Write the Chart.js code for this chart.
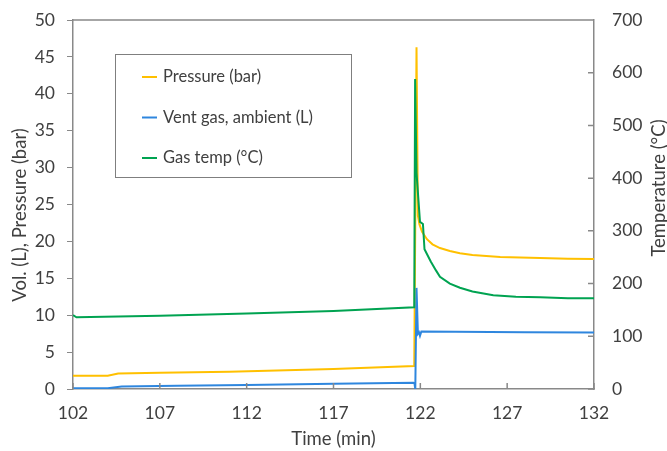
<!DOCTYPE html>
<html>
<head>
<meta charset="utf-8">
<script src="https://cdn.jsdelivr.net/npm/chart.js@4.4.1/dist/chart.umd.min.js"></script>
<style>
  html, body { margin: 0; padding: 0; background: #fff; }
  #wrap { width: 667px; height: 451px; }
</style>
</head>
<body>
<div id="wrap"><canvas id="ventChart"></canvas></div>
<script>
// values
const pressureTime = [102, 104, 104.6, 107, 111, 117, 121.65, 121.78, 121.86, 121.95, 122.1, 122.38, 122.7, 123.13, 123.7, 124.28, 125, 126.6, 128.9, 130.5, 132];
const pressureBar  = [1.8, 1.8, 2.1, 2.2, 2.35, 2.7, 3.1, 46.3, 23.5, 22.3, 21.3, 20.3, 19.6, 19.1, 18.7, 18.4, 18.15, 17.9, 17.75, 17.65, 17.6];

const ventTime = [102, 104, 104.8, 108, 112, 117, 121.6, 121.66, 121.71, 121.78, 121.86, 121.92, 121.98, 122.06, 124, 128, 132];
const ventVol  = [0.1, 0.1, 0.35, 0.45, 0.55, 0.7, 0.85, 0.75, 0, 13.7, 7.5, 7.7, 7.2, 7.8, 7.75, 7.7, 7.65];

const tempTime = [102, 102.2, 107, 112, 117, 121.65, 121.7, 121.78, 121.98, 122.15, 122.24, 122.38, 122.6, 122.9, 123.13, 123.7, 124.28, 125, 126.2, 127.5, 128.9, 130.5, 132];
const tempC    = [140, 136, 139, 143, 148, 155, 588, 410, 317, 313, 265, 256, 242, 225, 213, 200, 192, 185, 178, 175, 174, 172, 172];

const seriesLabels = ["Pressure (bar)", "Vent gas, ambient (L)", "Gas temp (°C)"];
const seriesColors = ["#FFC000", "#2E86DE", "#00A351"];

const xTitle = "Time (min)";
const yLeftTitle = "Vol. (L), Pressure (bar)";
const yRightTitle = "Temperature (°C)";

function toPoints(xs, ys) {
    return xs.map((x, i) => ({ x: x, y: ys[i] }));
}

const axisGray = "#898989";
const textGray = "#404040";
const fontFamily = "Lato, 'Open Sans', sans-serif";
const tickFont = { family: fontFamily, size: 17.5 };
const titleSize = 18.5;

// frame top, inside tick marks, vertical axis titles and the boxed legend
const chartDecor = {
    id: "chartDecor",
    afterDraw(chart) {
        const ctx = chart.ctx;
        const area = chart.chartArea;
        ctx.save();
        ctx.strokeStyle = axisGray;
        ctx.lineWidth = 1.5;
        ctx.beginPath();
        ctx.moveTo(area.left, area.top);
        ctx.lineTo(area.right, area.top);
        // x ticks point up into the plot
        chart.scales.x.ticks.forEach((t) => {
            const px = chart.scales.x.getPixelForValue(t.value);
            ctx.moveTo(px, area.bottom);
            ctx.lineTo(px, area.bottom - 6);
        });
        // right axis ticks point left into the plot
        chart.scales.y2.ticks.forEach((t) => {
            const py = chart.scales.y2.getPixelForValue(t.value);
            ctx.moveTo(area.right, py);
            ctx.lineTo(area.right - 6, py);
        });
        ctx.stroke();

        // vertical titles, both reading bottom to top
        ctx.fillStyle = textGray;
        ctx.font = titleSize + "px " + fontFamily;
        ctx.textAlign = "center";
        ctx.textBaseline = "middle";
        ctx.save();
        ctx.translate(20, area.top + 195);
        ctx.rotate(-Math.PI / 2);
        ctx.fillText(yLeftTitle, 0, 0);
        ctx.restore();
        ctx.save();
        ctx.translate(chart.width - 8, area.top + 168);
        ctx.rotate(-Math.PI / 2);
        ctx.fillText(yRightTitle, 0, 0);
        ctx.restore();

        // legend box
        const left = area.left + 42, top = area.top + 34;
        ctx.fillStyle = "#fff";
        ctx.fillRect(left, top, 236, 123);
        ctx.strokeStyle = "#7f7f7f";
        ctx.lineWidth = 1;
        ctx.strokeRect(left + 0.5, top + 0.5, 236, 123);
        ctx.font = "16.5px " + fontFamily;
        ctx.textAlign = "left";
        chart.data.datasets.forEach((ds, i) => {
            const y = top + 23 + i * 40.5;
            ctx.strokeStyle = ds.borderColor;
            ctx.lineWidth = 2;
            ctx.beginPath();
            ctx.moveTo(left + 27, y);
            ctx.lineTo(left + 42, y);
            ctx.stroke();
            ctx.fillStyle = textGray;
            ctx.fillText(ds.label, left + 48, y);
        });
        ctx.restore();
    }
};

// fixed axis boxes so the plot area sits where the original's does
function fixWidth(scale) {
    scale.width = 73;
    scale.paddingTop = 0;
    scale.paddingBottom = 0;
}

const ctx = document.getElementById("ventChart").getContext("2d");
new Chart(ctx, {
    type: "line",
    data: {
        datasets: [
            {
                label: seriesLabels[0],
                data: toPoints(pressureTime, pressureBar),
                borderColor: seriesColors[0],
                yAxisID: "y",
                order: 3,
            },
            {
                label: seriesLabels[1],
                data: toPoints(ventTime, ventVol),
                borderColor: seriesColors[1],
                yAxisID: "y",
                order: 2,
            },
            {
                label: seriesLabels[2],
                data: toPoints(tempTime, tempC),
                borderColor: seriesColors[2],
                yAxisID: "y2",
                order: 1,
            },
        ],
    },
    options: {
        responsive: true,
        maintainAspectRatio: false,
        animation: false,
        layout: { padding: { top: 20, bottom: 0, left: 0, right: 0 } },
        elements: {
            point: { radius: 0 },
            line: { borderWidth: 2, tension: 0 },
        },
        plugins: {
            legend: { display: false },
            tooltip: { enabled: false },
        },
        scales: {
            x: {
                type: "linear",
                min: 102,
                max: 132,
                ticks: { stepSize: 5, color: textGray, font: tickFont, padding: 14 },
                grid: { drawOnChartArea: false, drawTicks: false },
                border: { color: axisGray, width: 1.5 },
                title: { display: true, text: xTitle, color: textGray, font: { family: fontFamily, size: titleSize }, padding: { top: 0, bottom: 1 } },
                afterFit(scale) {
                    scale.height = 62;
                    scale.paddingLeft = 0;
                    scale.paddingRight = 0;
                },
            },
            y: {
                position: "left",
                min: 0,
                max: 50,
                ticks: { stepSize: 5, color: textGray, font: tickFont, padding: 12 },
                grid: { drawOnChartArea: false, color: axisGray, tickLength: 6 },
                border: { color: axisGray, width: 1.5 },
                afterFit: fixWidth,
            },
            y2: {
                position: "right",
                min: 0,
                max: 700,
                ticks: { stepSize: 100, color: textGray, font: tickFont, padding: 18 },
                grid: { drawOnChartArea: false, drawTicks: false },
                border: { color: axisGray, width: 1.5 },
                afterFit: fixWidth,
            },
        },
    },
    plugins: [chartDecor],
});
</script>
</body>
</html>
